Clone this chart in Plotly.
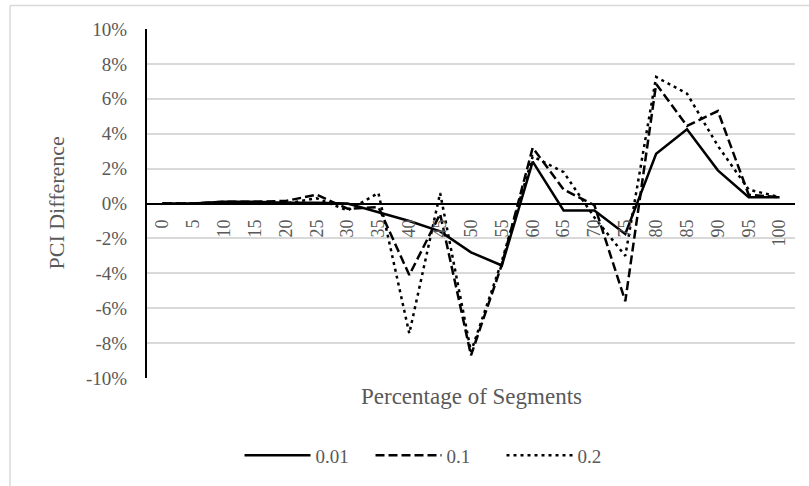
import plotly.graph_objects as go

categories = ["0", "5", "10", "15", "20", "25", "30", "35", "40", "45", "50",
              "55", "60", "65", "70", "75", "80", "85", "90", "95", "100"]
series_names = ["0.01", "0.1", "0.2"]
s001 = [0.0, 0.0, 0.1, 0.1, 0.05, 0.05, 0.0, -0.5, -1.0, -1.6, -2.8,
        -3.55, 2.4, -0.4, -0.4, -1.75, 2.85, 4.25, 1.9, 0.36, 0.36]
s01 = [0.0, 0.0, 0.1, 0.1, 0.15, 0.5, -0.3, -0.2, -4.1, -0.6, -8.7,
       -3.5, 3.2, 0.8, -0.1, -5.6, 6.85, 4.45, 5.3, 0.5, 0.36]
s02 = [0.0, 0.0, 0.05, 0.05, 0.0, 0.3, -0.4, 0.6, -7.45, 0.6, -8.5,
       -3.3, 2.7, 1.8, -0.8, -3.0, 7.25, 6.3, 3.3, 0.8, 0.36]
y_tick_values = [-10, -8, -6, -4, -2, 0, 2, 4, 6, 8, 10]
y_tick_labels = ["-10%", "-8%", "-6%", "-4%", "-2%", "0%", "2%", "4%", "6%", "8%", "10%"]

TEXT = "#595959"
FONT = "Liberation Serif, Times New Roman, serif"

fig = go.Figure()
styles = ["solid", "9px,4px", "3px,4px"]
for name, vals, dash in zip(series_names, [s001, s01, s02], styles):
    fig.add_trace(go.Scatter(
        x=categories, y=vals, name=name, mode="lines",
        line=dict(color="black", width=2.5, dash=dash),
    ))

fig.update_layout(
    width=809, height=486,
    margin=dict(l=147, r=14, t=29, b=102),
    paper_bgcolor="white", plot_bgcolor="white",
    font=dict(family=FONT, color=TEXT, size=18),
    showlegend=True,
    legend=dict(orientation="h", x=0.446, xanchor="center", y=-0.222, yanchor="middle",
                font=dict(size=19, color=TEXT), itemwidth=66, entrywidth=50,
                bgcolor="rgba(0,0,0,0)"),
    xaxis=dict(
        type="category", anchor="free", position=0.5,
        showline=True, linecolor="black", linewidth=1.5,
        showgrid=False, ticks="", tickangle=-90,
        tickfont=dict(size=18, color=TEXT), ticklabelstandoff=8,
        range=[-0.5, 20.5],
    ),
    yaxis=dict(
        range=[-10, 10], tickvals=y_tick_values, ticktext=y_tick_labels,
        showgrid=True, gridcolor="#d9d9d9", gridwidth=1.5,
        zeroline=False, showline=True, linecolor="black", linewidth=2,
        ticks="", tickfont=dict(size=19, color=TEXT), ticklabelstandoff=14,
    ),
    annotations=[
        dict(text="Percentage of Segments", xref="paper", yref="paper",
             x=0.5, y=-0.0535, xanchor="center", yanchor="middle",
             showarrow=False, font=dict(size=23, color=TEXT)),
        dict(text="PCI Difference", xref="paper", yref="paper",
             x=-0.1404, y=0.5, xanchor="center", yanchor="middle", textangle=-90,
             showarrow=False, font=dict(size=22, color=TEXT)),
    ],
    shapes=[
        dict(type="line", xref="paper", yref="paper",
             x0=-0.2114, y0=-0.4, x1=-0.2114, y1=1.0676,
             line=dict(color="#d9d9d9", width=1.5), layer="below"),
        dict(type="line", xref="paper", yref="paper",
             x0=-0.2114, y0=1.0676, x1=1.1, y1=1.0676,
             line=dict(color="#d9d9d9", width=1.5), layer="below"),
    ],
)

fig.write_html("out.html")
